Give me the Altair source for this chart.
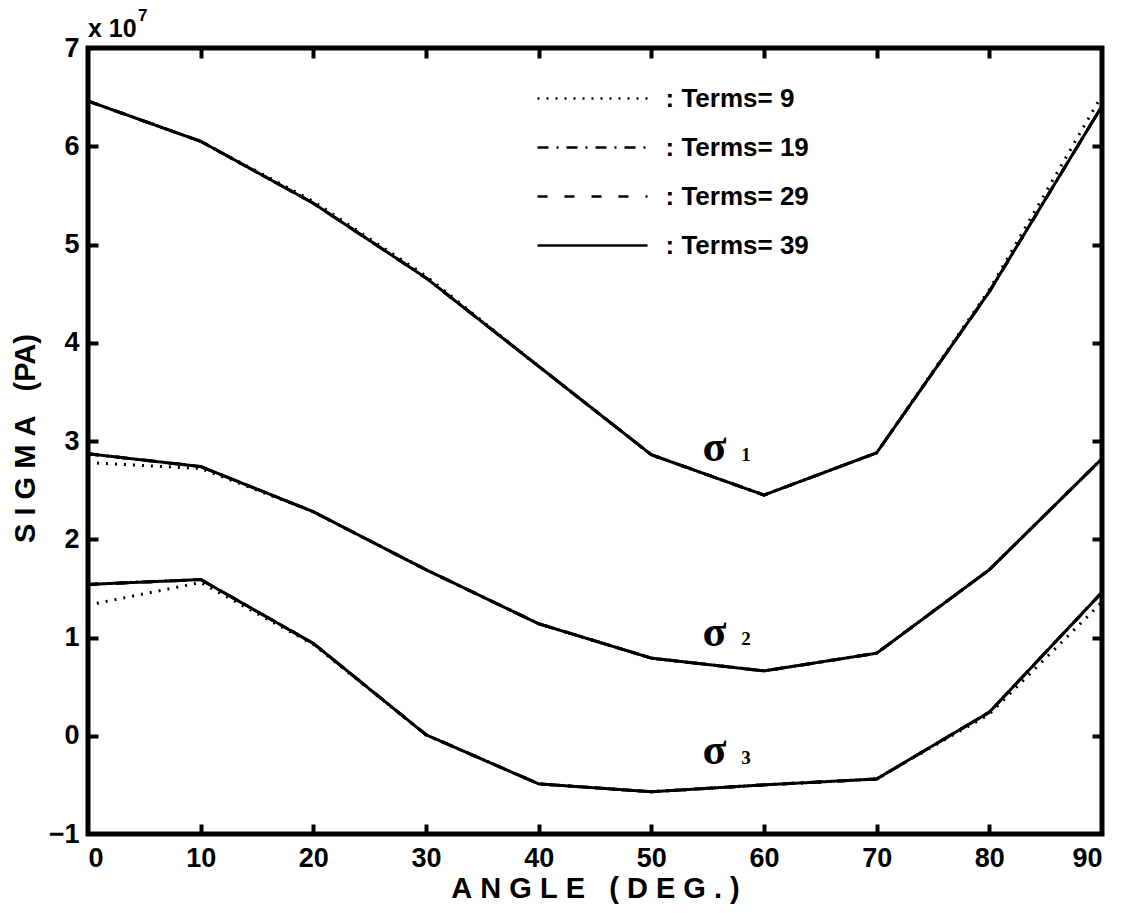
import altair as alt
import pandas as pd

# ---------------- data (values in units of 1e7 Pa) ----------------
angles = [0, 10, 20, 30, 40, 50, 60, 70, 80, 90]
terms_labels = [": Terms= 9", ": Terms= 19", ": Terms= 29", ": Terms= 39"]

# Terms = 9 (dotted)
s1_t9 = [6.46, 6.05, 5.44, 4.68, 3.76, 2.86, 2.45, 2.88, 4.54, 6.52]
s2_t9 = [2.78, 2.72, 2.28, 1.69, 1.14, 0.79, 0.66, 0.84, 1.69, 2.82]
s3_t9 = [1.33, 1.56, 0.93, 0.01, -0.49, -0.57, -0.50, -0.44, 0.22, 1.36]
# Terms = 19 (dash-dot)
s1_t19 = [6.46, 6.05, 5.42, 4.66, 3.76, 2.86, 2.45, 2.88, 4.52, 6.41]
s2_t19 = [2.87, 2.74, 2.28, 1.69, 1.14, 0.79, 0.66, 0.84, 1.69, 2.82]
s3_t19 = [1.54, 1.59, 0.94, 0.01, -0.49, -0.57, -0.50, -0.44, 0.24, 1.46]
# Terms = 29 (dashed)
s1_t29 = [6.46, 6.05, 5.42, 4.66, 3.76, 2.86, 2.45, 2.88, 4.52, 6.41]
s2_t29 = [2.87, 2.74, 2.28, 1.69, 1.14, 0.79, 0.66, 0.84, 1.69, 2.82]
s3_t29 = [1.54, 1.59, 0.94, 0.01, -0.49, -0.57, -0.50, -0.44, 0.24, 1.46]
# Terms = 39 (solid)
s1_t39 = [6.46, 6.05, 5.42, 4.66, 3.76, 2.86, 2.45, 2.88, 4.52, 6.41]
s2_t39 = [2.87, 2.74, 2.28, 1.69, 1.14, 0.79, 0.66, 0.84, 1.69, 2.82]
s3_t39 = [1.54, 1.59, 0.94, 0.01, -0.49, -0.57, -0.50, -0.44, 0.24, 1.46]

x_tick_values = [0, 10, 20, 30, 40, 50, 60, 70, 80, 90]
y_tick_values = [-1, 0, 1, 2, 3, 4, 5, 6, 7]
x_inner_ticks = [10, 20, 30, 40, 50, 60, 70, 80]
y_inner_ticks = [0, 1, 2, 3, 4, 5, 6]

sigma_names = ["σ", "σ", "σ"]
sigma_subs = ["1", "2", "3"]
sigma_x = [55.6, 55.6, 55.6]
sigma_y = [2.93, 1.05, -0.155]
sub_x = [58.4, 58.4, 58.4]
sub_y = [2.86, 0.98, -0.225]

NB = "\u00a0"
x_title = NB.join("ANGLE") + NB * 3 + NB.join("(DEG.)")
y_title = NB.join("SIGMA") + NB * 3 + "(PA)"

# ---------------- build table ----------------
series = {
    (": Terms= 9", "s1"): s1_t9, (": Terms= 9", "s2"): s2_t9, (": Terms= 9", "s3"): s3_t9,
    (": Terms= 19", "s1"): s1_t19, (": Terms= 19", "s2"): s2_t19, (": Terms= 19", "s3"): s3_t19,
    (": Terms= 29", "s1"): s1_t29, (": Terms= 29", "s2"): s2_t29, (": Terms= 29", "s3"): s3_t29,
    (": Terms= 39", "s1"): s1_t39, (": Terms= 39", "s2"): s2_t39, (": Terms= 39", "s3"): s3_t39,
}
rows = []
for (t, s), vals in series.items():
    for a, v in zip(angles, vals):
        rows.append({"angle": a, "value": v, "terms": t, "sigma": s, "grp": t + s})
df = pd.DataFrame(rows)

lab_df = pd.DataFrame({"x": sigma_x, "y": sigma_y, "t": sigma_names})
sub_df = pd.DataFrame({"x": sub_x, "y": sub_y, "t": sigma_subs})

FONT = "Liberation Sans"
xscale = alt.Scale(domain=[0, 90], nice=False, zero=False)
yscale = alt.Scale(domain=[-1, 7], nice=False, zero=False)

dash_scale = alt.Scale(
    domain=terms_labels,
    range=[[2, 7], [11, 8, 2, 8], [10, 17], [1, 0]],
)

lines = alt.Chart(df).mark_line(color="black", strokeWidth=3).encode(
    x=alt.X("angle:Q", scale=xscale,
            axis=alt.Axis(values=x_tick_values, ticks=False, domain=False, grid=False,
                          labelFont=FONT, labelFontSize=27, labelFontWeight="bold",
                          labelColor="black", labelPadding=11, format="d",
                          title=x_title, titleFont=FONT, titleFontSize=29,
                          titleFontWeight="bold", titleColor="black",
                          titleX=507, titleY=54, titleBaseline="middle", titleAlign="center")),
    y=alt.Y("value:Q", scale=yscale,
            axis=alt.Axis(values=y_tick_values, ticks=False, domain=False, grid=False,
                          labelFont=FONT, labelFontSize=27, labelFontWeight="bold",
                          labelColor="black", labelPadding=9, format="d",
                          title=y_title, titleFont=FONT, titleFontSize=29,
                          titleFontWeight="bold", titleColor="black",
                          titleX=-63, titleY=390, titleBaseline="middle", titleAlign="center",
                          titleAngle=270)),
    strokeDash=alt.StrokeDash("terms:N", scale=dash_scale,
                              legend=alt.Legend(orient="none", legendX=449, legendY=37.5,
                                                title=None, padding=0,
                                                symbolType="M-5,0H5", symbolSize=484,
                                                symbolOffset=42.5,
                                                symbolStrokeWidth=2.5,
                                                symbolStrokeColor="black",
                                                labelFont=FONT, labelFontSize=26,
                                                labelFontWeight="bold", labelColor="black",
                                                labelOffset=60, rowPadding=23,
                                                labelLimit=400)),
    detail="grp:N",
)

tick_axis_common = dict(labels=False, domain=False, grid=False, title=None,
                        tickSize=10, tickWidth=4, tickColor="black", offset=-10)

ticks_bl = alt.Chart(df).mark_point(opacity=0).encode(
    x=alt.X("angle:Q", scale=xscale,
            axis=alt.Axis(orient="bottom", values=x_inner_ticks, **tick_axis_common)),
    y=alt.Y("value:Q", scale=yscale,
            axis=alt.Axis(orient="left", values=y_inner_ticks, **tick_axis_common)),
)
ticks_tr = alt.Chart(df).mark_point(opacity=0).encode(
    x=alt.X("angle:Q", scale=xscale,
            axis=alt.Axis(orient="top", values=x_inner_ticks, **tick_axis_common)),
    y=alt.Y("value:Q", scale=yscale,
            axis=alt.Axis(orient="right", values=y_inner_ticks, **tick_axis_common)),
)

sig = alt.Chart(lab_df).mark_text(font="Liberation Serif", fontSize=44, fontWeight="bold",
                                  color="black", baseline="middle", align="center").encode(
    x=alt.X("x:Q", scale=xscale, axis=None),
    y=alt.Y("y:Q", scale=yscale, axis=None),
    text="t:N",
)
subs = alt.Chart(sub_df).mark_text(font="Liberation Serif", fontSize=19, fontWeight="bold",
                                   color="black", baseline="middle", align="center").encode(
    x=alt.X("x:Q", scale=xscale, axis=None),
    y=alt.Y("y:Q", scale=yscale, axis=None),
    text="t:N",
)

exp_base = alt.Chart(pd.DataFrame({"t": ["x 10"]})).mark_text(
    font=FONT, fontSize=25, fontWeight="bold", color="black", align="left",
    baseline="middle").encode(x=alt.value(0), y=alt.value(-19), text="t:N")
exp_sup = alt.Chart(pd.DataFrame({"t": ["7"]})).mark_text(
    font=FONT, fontSize=17, fontWeight="bold", color="black", align="left",
    baseline="middle").encode(x=alt.value(50), y=alt.value(-32), text="t:N")

chart = alt.layer(lines, ticks_bl, ticks_tr, sig, subs, exp_base, exp_sup).resolve_axis(
    x="independent", y="independent"
).properties(
    width=1014, height=786,
    autosize=alt.AutoSizeParams(type="none"),
    padding={"left": 88, "top": 48, "right": 21, "bottom": 79},
    background="white",
).configure_view(stroke="black", strokeWidth=5)

chart.save("out.html", embed_options={"renderer": "svg", "actions": False})
